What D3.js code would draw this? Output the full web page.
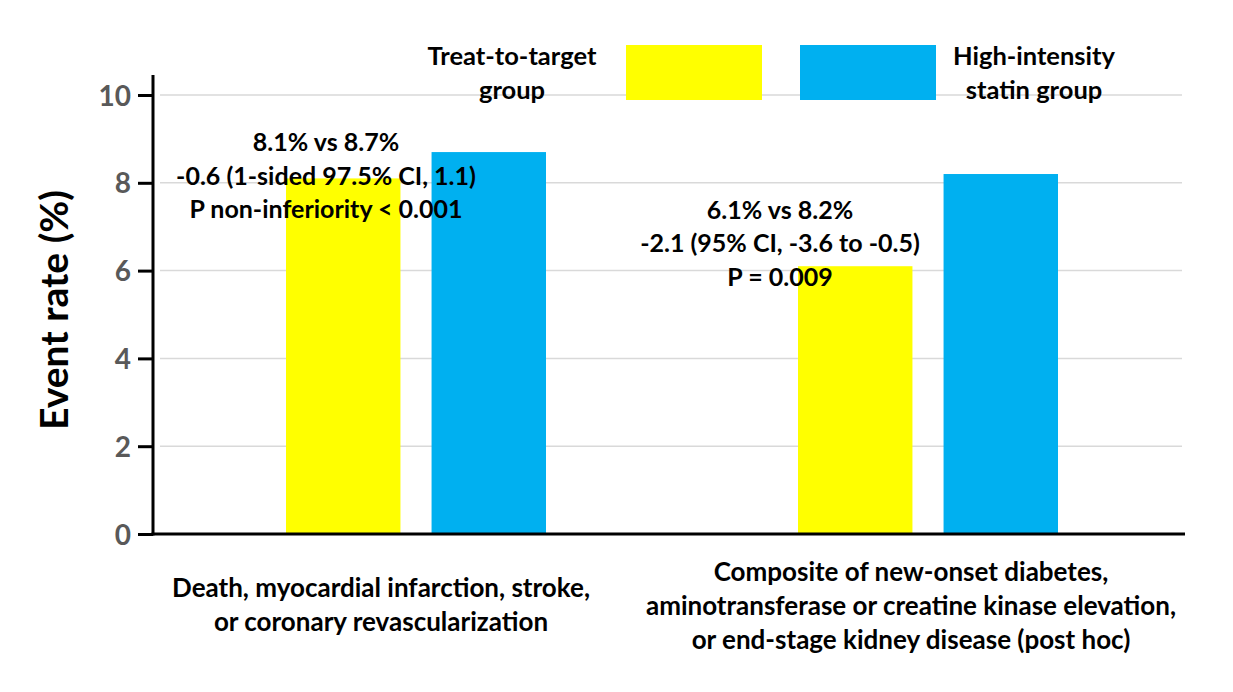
<!DOCTYPE html>
<html><head><meta charset="utf-8">
<script src="https://cdn.jsdelivr.net/npm/d3@7"></script>
<style>
body{margin:0;background:#fff}
svg text{font-family:Lato,"Open Sans",sans-serif;font-weight:700}
</style>
</head><body>
<svg id="chart" width="1233" height="692"></svg>
<script>
// ---- data ----
const categories = ["Primary endpoint", "Safety composite"];
const categoryLines = [
  ["Death, myocardial infarction, stroke,", "or coronary revascularization"],
  ["Composite of new-onset diabetes,", "aminotransferase or creatine kinase elevation,", "or end-stage kidney disease (post hoc)"]
];
const seriesNames = ["Treat-to-target group", "High-intensity statin group"];
const legendLines = [["Treat-to-target", "group"], ["High-intensity", "statin group"]];
const treatToTarget = [8.1, 6.1];
const highIntensity = [8.7, 8.2];
const annotations = [
  ["8.1% vs 8.7%", "-0.6 (1-sided 97.5% CI, 1.1)", "P non-inferiority < 0.001"],
  ["6.1% vs 8.2%", "-2.1 (95% CI, -3.6 to -0.5)", "P = 0.009"]
];
const yTicks = [0, 2, 4, 6, 8, 10];
const yTitle = "Event rate (%)";
const colors = ["#FFFF00", "#00B0F0"];

// ---- chart ----
const svg = d3.select("#chart");
const axisX = 153, plotRight = 1185;
const y = d3.scaleLinear().domain([0, 10]).range([534, 95]);
const x0 = d3.scaleBand().domain(categories).range([160, 1184]).padding(0);
const x1 = d3.scaleBand().domain(seriesNames).range([0, 260]).paddingInner(31 / 145).paddingOuter(0);
const innerOffset = (x0.bandwidth() - 260) / 2;

// gridlines
svg.append("g").selectAll("line").data(yTicks.filter(d => d > 0)).join("line")
  .attr("x1", 160).attr("x2", 1182)
  .attr("y1", d => y(d)).attr("y2", d => y(d))
  .attr("stroke", "#d9d9d9").attr("stroke-width", 1.5);

// bars
const rows = categories.map((c, i) => ({cat: c, vals: [treatToTarget[i], highIntensity[i]]}));
const g = svg.append("g").selectAll("g").data(rows).join("g")
  .attr("transform", d => `translate(${x0(d.cat) + innerOffset},0)`);
g.selectAll("rect").data(d => d.vals.map((v, j) => ({s: seriesNames[j], v, j}))).join("rect")
  .attr("x", d => x1(d.s)).attr("width", x1.bandwidth())
  .attr("y", d => y(d.v)).attr("height", d => y(0) - y(d.v))
  .attr("fill", d => colors[d.j]);

// y axis
const yAxis = d3.axisLeft(y).tickValues(yTicks).tickSize(15).tickPadding(8).tickFormat(d3.format("d"));
const ya = svg.append("g").attr("transform", `translate(${axisX},0)`).call(yAxis);
ya.select(".domain").remove();
ya.selectAll(".tick line").attr("stroke", "#000").attr("stroke-width", 3);
ya.selectAll(".tick text").attr("fill", "#595959").attr("font-size", 28)
  .attr("font-family", "Lato, sans-serif").attr("font-weight", 700).attr("dy", "0.36em").attr("x", -22);
svg.append("line").attr("x1", axisX).attr("x2", axisX).attr("y1", 75).attr("y2", y(0) + 1.5)
  .attr("stroke", "#000").attr("stroke-width", 3);
svg.append("line").attr("x1", axisX - 1.5).attr("x2", plotRight).attr("y1", y(0)).attr("y2", y(0))
  .attr("stroke", "#000").attr("stroke-width", 3);

// y title
svg.append("text").attr("transform", `translate(68,310) rotate(-90)`)
  .attr("text-anchor", "middle").attr("font-size", 39).attr("fill", "#000").text(yTitle);

// category labels
const catBase = [[597, 631], [581, 615, 649]];
const catCenter = [381, 911];
categoryLines.forEach((lines, i) => {
  svg.append("g").selectAll("text").data(lines).join("text")
    .attr("x", catCenter[i]).attr("y", (d, k) => catBase[i][k])
    .attr("text-anchor", "middle").attr("font-size", 26).attr("fill", "#000").text(d => d);
});

// annotations
const annOffset = [-90, -148];
const annBase = [[151, 185, 218], [219, 252, 286]];
annotations.forEach((lines, i) => {
  const cx = x0(categories[i]) + x0.bandwidth() / 2 + annOffset[i];
  svg.append("g").selectAll("text").data(lines).join("text")
    .attr("x", cx).attr("y", (d, k) => annBase[i][k])
    .attr("text-anchor", "middle").attr("font-size", 25).attr("fill", "#000").text(d => d);
});

// legend
const legRect = [626, 800];
const legText = [512, 1034];
seriesNames.forEach((s, i) => {
  svg.append("rect").attr("x", legRect[i]).attr("y", 45).attr("width", 136).attr("height", 55).attr("fill", colors[i]);
  svg.append("g").selectAll("text").data(legendLines[i]).join("text")
    .attr("x", legText[i]).attr("y", (d, k) => 65 + k * 34)
    .attr("text-anchor", "middle").attr("font-size", 25.5).attr("fill", "#000").text(d => d);
});
</script>
</body></html>
